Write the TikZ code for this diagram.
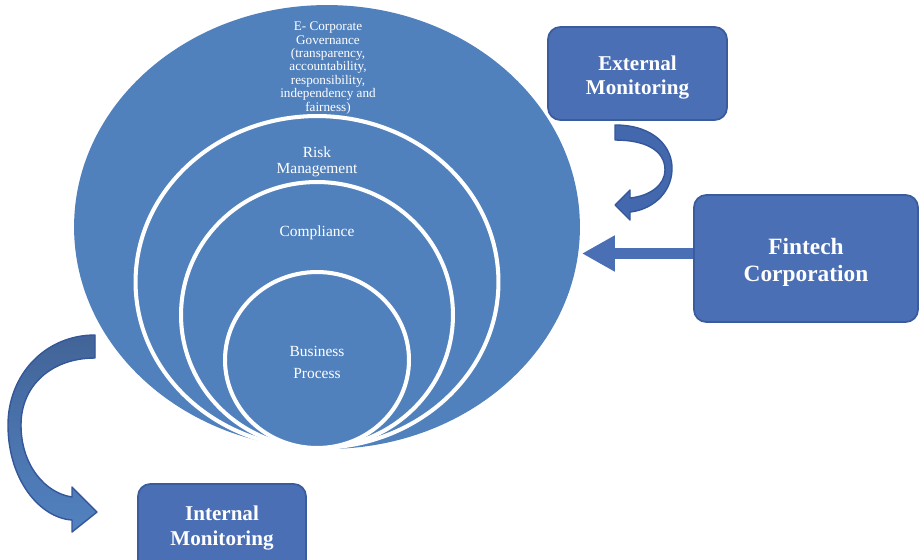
\documentclass[tikz,border=0pt]{standalone}
\usepackage{fontspec}
\setmainfont{Liberation Serif}
\usetikzlibrary{shapes.geometric,arrows.meta,positioning}
\definecolor{ringblue}{RGB}{81,129,189}
\definecolor{boxblue}{RGB}{74,111,181}
\definecolor{boxedge}{RGB}{59,92,156}
\definecolor{bendblue}{RGB}{68,104,173}
\definecolor{bendedge}{RGB}{53,87,154}
\definecolor{benddark}{RGB}{66,100,152}
\definecolor{bendlight}{RGB}{82,130,192}
\tikzset{
    ring/.style={
           ellipse,
           fill=ringblue,
           draw=white, line width=2.3pt,
           inner sep=0pt,
           },
    ringtext/.style={
           text=white,
           align=center,
           inner sep=0pt,
           font=\fontsize{8.8}{9}\selectfont,
           },
    monitor/.style={
           rectangle,
           rounded corners=7pt,
           fill=boxblue,
           draw=boxedge, line width=1pt,
           text=white,
           align=center,
           font=\bfseries\fontsize{12}{14}\selectfont,
           },
    fatarrow/.style={
           draw=boxblue,
           line width=6.8pt,
           -{Triangle[width=19.3pt,length=18.7pt]},
           },
    bendarrow/.style={
           fill=bendblue,
           draw=bendedge, line width=0.8pt,
           line join=round,
           },
}

\begin{document}
\begin{tikzpicture}[x=0.02cm,y=-0.02cm]
 \useasboundingbox (0,0) rectangle (921,559);
 \clip (0,0) rectangle (921,559);

 % the nested rings, all touching at the bottom
 \node[ring, draw=none,
  minimum width=10.12cm,
  minimum height=8.88cm] (GOV) at (327,227) {};
 \node[ring,
  minimum width=7.26cm,
  minimum height=6.64cm] (RISK) at (317,282) {};
 \node[ring,
  minimum width=5.44cm,
  minimum height=5.32cm] (COMP) at (317,315) {};
 \node[ring,
  minimum width=3.68cm,
  minimum height=3.52cm] (PROC) at (317,360) {};

 % ring labels
 \node[ringtext, font=\fontsize{7.5}{7.6}\selectfont] (GOVTXT) at (328,68)
 {E- Corporate\\Governance\\(transparency,\\accountability,\\responsibility,\\independency and\\fairness)};
 \node[ringtext] (RISKTXT) at (317,162) {Risk\\Management};
 \node[ringtext] (COMPTXT) at (317,233) {Compliance};
 \node[ringtext, font=\fontsize{8.8}{12.5}\selectfont] (PROCTXT) at (317,362) {Business\\Process};

 % monitoring boxes (strut pushes the two lines a bit lower)
 \node[monitor,
  minimum width=3.58cm,
  minimum height=1.86cm] (EXT) at (637.5,73.5)
 {\rule{0pt}{13pt}External\\Monitoring};
 \node[monitor,
  font=\bfseries\fontsize{13.3}{15.5}\selectfont,
  minimum width=4.48cm,
  minimum height=2.54cm] (FIN) at (806,258.5)
 {\rule{0pt}{14pt}Fintech\\Corporation};
 \node[monitor,
  minimum width=3.36cm,
  minimum height=1.76cm] (INT) at (222,528)
 {Internal\\Monitoring};

 % straight arrow into the rings
 \coordinate (FINOUT) at ([yshift=0.1cm]FIN.west);
 \draw[fatarrow] (FINOUT) -- (FINOUT -| GOV.east);

 % bent arrow below External Monitoring
 \path[bendarrow] (615,125) .. controls (655,125) and (673,148) .. (672,170)
  .. controls (671,195) and (650,210) .. (630,212) -- (630,220) -- (615,205)
  -- (630,190) -- (630,198) .. controls (650,196) and (665,185) .. (665,170)
  .. controls (665,150) and (645,140) .. (615,140) -- cycle;

 % bent arrow down to Internal Monitoring
 \path[bendarrow, top color=benddark, bottom color=bendlight] (95,335)
  .. controls (45,335) and (8,375) .. (8,425)
  .. controls (8,480) and (40,518) .. (72,520) -- (72,532) -- (97,512)
  -- (72,487) -- (72,497) .. controls (45,493) and (21,465) .. (21,425)
  .. controls (21,385) and (52,358) .. (95,358) -- cycle;
\end{tikzpicture}
\end{document}
